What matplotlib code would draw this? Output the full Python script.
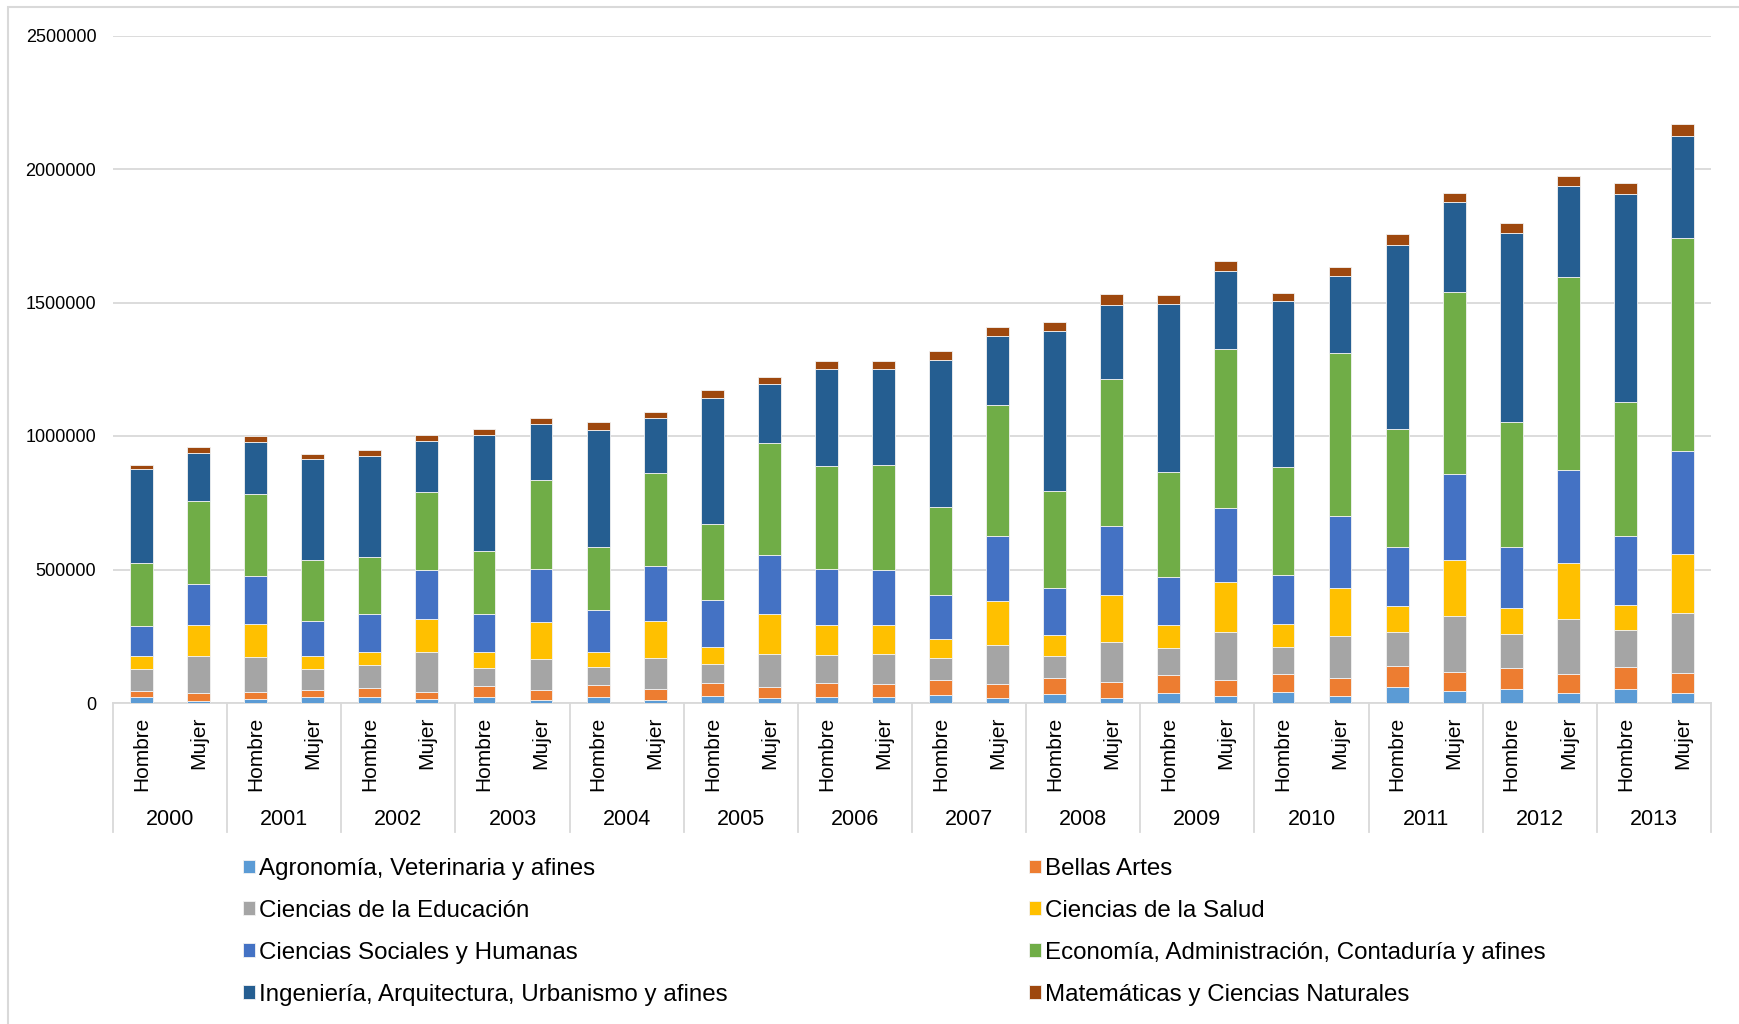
import matplotlib
matplotlib.use('Agg')
import matplotlib.pyplot as plt
import matplotlib.transforms as mtransforms
from matplotlib.patches import Rectangle
import numpy as np

plt.rcParams['font.family'] = ['Liberation Sans', 'DejaVu Sans']

years = [str(y) for y in range(2000, 2014)]
sexes = ['Hombre', 'Mujer']

areas = ['Agronomía, Veterinaria y afines',
         'Bellas Artes',
         'Ciencias de la Educación',
         'Ciencias de la Salud',
         'Ciencias Sociales y Humanas',
         'Economía, Administración, Contaduría y afines',
         'Ingeniería, Arquitectura, Urbanismo y afines',
         'Matemáticas y Ciencias Naturales']

colors = ['#5B9BD5', '#ED7D31', '#A5A5A5', '#FFC000',
          '#4472C4', '#70AD47', '#255E91', '#9E480E']

# values in thousands, order: 2000 H, 2000 M, 2001 H, 2001 M, ...
agro = [21, 9, 14, 21, 21, 14, 21, 11, 21, 11, 25, 18, 21, 21,
        30, 19, 33, 20, 39, 26, 41, 28, 59, 44, 53, 39, 52, 39]
bellas = [25, 27, 26, 29, 34, 29, 41, 36, 46, 41, 49, 41, 53, 50,
          57, 52, 59, 59, 65, 60, 68, 64, 79, 72, 79, 71, 81, 74]
educacion = [83, 141, 134, 79, 86, 148, 69, 118, 67, 117, 72, 125, 106, 111,
             83, 148, 85, 150, 102, 180, 102, 160, 129, 210, 127, 206, 140, 225]
salud = [46, 115, 123, 48, 50, 123, 59, 137, 56, 138, 64, 150, 112, 110,
         71, 162, 79, 177, 85, 186, 85, 178, 95, 209, 97, 207, 95, 221]
sociales = [115, 155, 177, 129, 141, 186, 145, 199, 159, 205, 176, 220, 209, 207,
            165, 245, 175, 258, 181, 279, 185, 271, 223, 322, 229, 351, 256, 385]
economia = [234, 309, 309, 228, 213, 290, 236, 336, 236, 349, 286, 418, 385, 391,
            328, 491, 363, 550, 393, 593, 403, 609, 442, 684, 467, 721, 502, 799]
ingenieria = [354, 180, 195, 378, 381, 193, 431, 207, 439, 206, 472, 223, 364, 362,
              551, 257, 598, 277, 629, 293, 620, 290, 689, 335, 707, 343, 781, 382]
matematicas = [15, 21, 22, 19, 22, 22, 24, 25, 27, 24, 27, 26, 30, 30,
               34, 36, 35, 40, 33, 38, 31, 32, 39, 34, 39, 37, 40, 42]

series = [agro, bellas, educacion, salud, sociales, economia, ingenieria, matematicas]

W, H = 1739, 1024
fig = plt.figure(figsize=(W / 100, H / 100), dpi=100)
ax = fig.add_axes([113 / W, 1 - 703 / H, (1711 - 113) / W, (703 - 35.5) / H])

x = np.arange(len(years) * len(sexes))
bottom = np.zeros(len(x))
handles = []
for name, vals, col in zip(areas, series, colors):
    v = np.array(vals) * 1000
    b = ax.bar(x, v, 0.4, bottom=bottom, color=col, label=name,
               edgecolor='#f2f2f2', linewidth=0.6, zorder=3)
    handles.append(b)
    bottom += v

ax.set_xlim(-0.5, len(x) - 0.5)
ax.set_ylim(0, 2500000)
ax.set_yticks(np.arange(0, 2500001, 500000))
ax.set_yticklabels([str(t) for t in range(0, 2500001, 500000)])
ax.yaxis.grid(True, color='#d9d9d9', linewidth=1.3, zorder=0)
for s in ['top', 'right', 'left']:
    ax.spines[s].set_visible(False)
ax.spines['bottom'].set_color('#d9d9d9')
ax.spines['bottom'].set_linewidth(1.3)
ax.tick_params(axis='y', length=0, pad=12, labelsize=13, colors='black')

ax.set_xticks(x)
ax.set_xticklabels(sexes * len(years), rotation=90)
ax.tick_params(axis='x', length=0, pad=10, labelsize=15)

trans = mtransforms.blended_transform_factory(ax.transData, ax.transAxes)
for i, yr in enumerate(years):
    ax.text(2 * i + 0.5, -0.175, yr, transform=trans, ha='center', va='center',
            fontsize=15.5)
for i in range(len(years) + 1):
    ax.plot([2 * i - 0.5, 2 * i - 0.5], [0, -0.193], transform=trans,
            color='#d9d9d9', linewidth=1.3, clip_on=False)

order = [0, 2, 4, 6, 1, 3, 5, 7]
fig.legend([handles[i] for i in order], [areas[i] for i in order],
           loc='upper left', bbox_to_anchor=(243 / W, 1 - 858 / H), ncol=2,
           frameon=False, fontsize=17.4, borderpad=0, borderaxespad=0,
           handlelength=0.5, handleheight=0.5, handletextpad=0.15,
           labelspacing=0.825, columnspacing=12.5)

fig.patches.append(Rectangle((8 / W, -0.1), 1.2, 1 - 7 / H + 0.1,
                             transform=fig.transFigure, fill=False,
                             edgecolor='#d9d9d9', linewidth=1.5))

fig.savefig('out.png', dpi=100, facecolor='white')
